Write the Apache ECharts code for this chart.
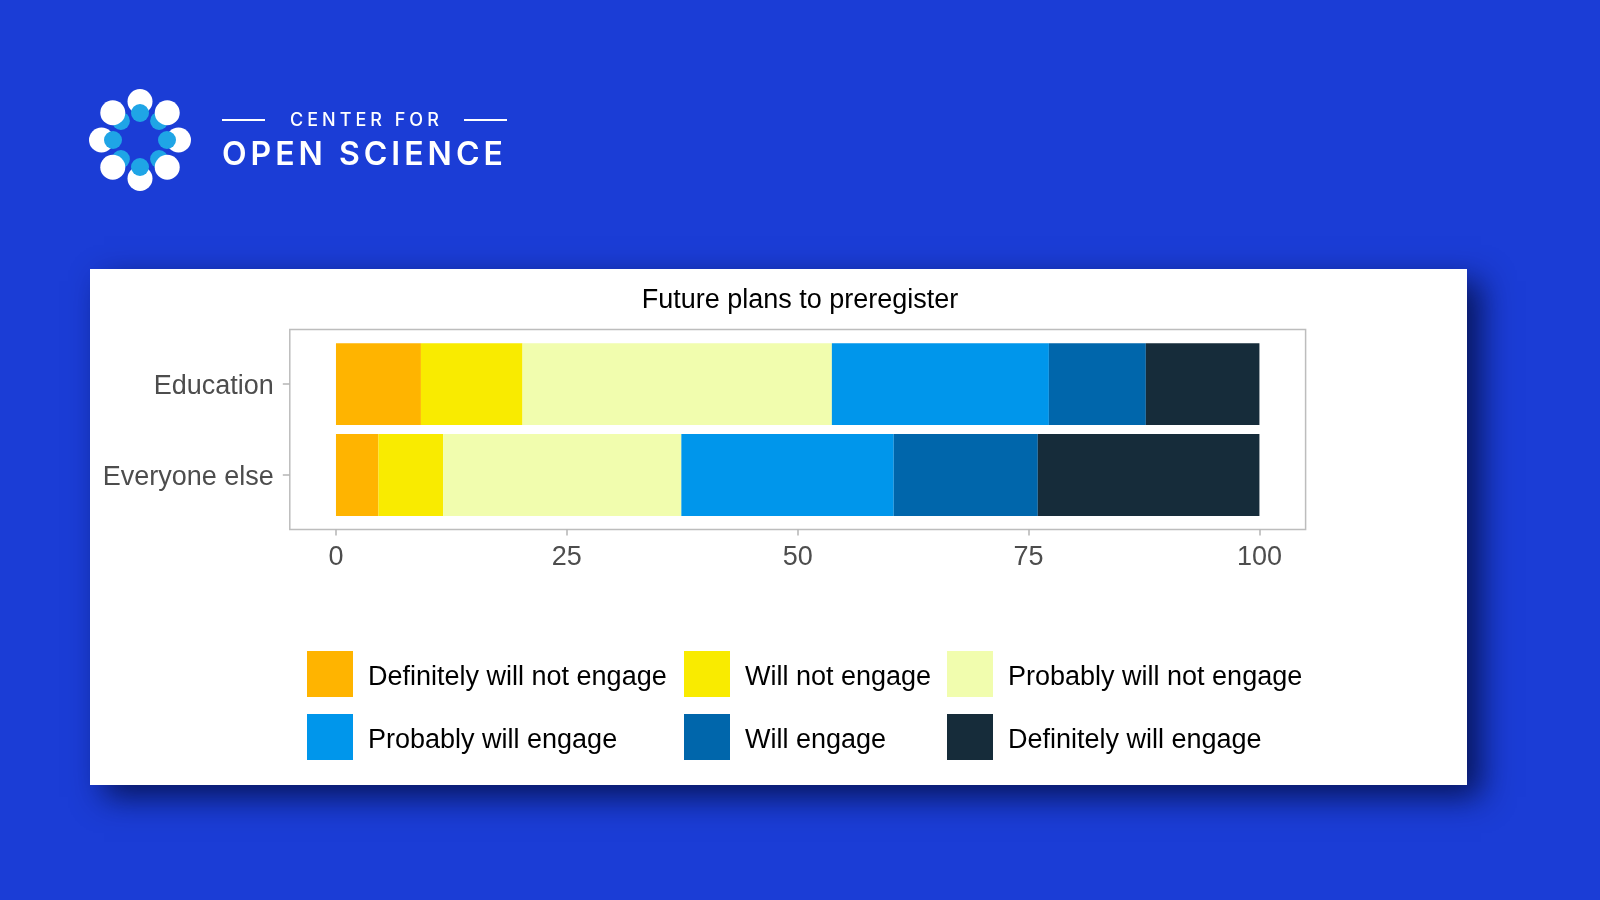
<!DOCTYPE html>
<html>
<head>
<meta charset="utf-8">
<script src="https://cdn.jsdelivr.net/npm/echarts@6/dist/echarts.min.js"></script>
<style>
  html, body { margin: 0; padding: 0; background: #1b3dd6; }
  #wrap { position: relative; width: 1600px; height: 900px; overflow: hidden; }
  #chart { position: absolute; left: 0; top: 0; width: 1600px; height: 900px; }
  .logo-line { position: absolute; height: 2px; background: #fff; }
  .logo-small { position: absolute; left: 290px; top: 108px; width: 160px; font-family: Inter, "Open Sans", sans-serif; font-weight: 500; font-size: 18px; letter-spacing: 4px; color: #fff; line-height: 24px; white-space: nowrap; }
  .logo-big { position: absolute; left: 222px; top: 134px; font-family: Inter, "Open Sans", sans-serif; font-weight: 600; font-size: 32px; letter-spacing: 4px; color: #fff; line-height: 40px; white-space: nowrap; }
</style>
</head>
<body>
<div id="wrap">
  <div id="chart"></div>
  <div class="logo-line" style="left:222px; top:119px; width:43px;"></div>
  <div class="logo-line" style="left:464px; top:119px; width:43px;"></div>
  <div class="logo-small">CENTER FOR</div>
  <div class="logo-big">OPEN SCIENCE</div>
</div>
<script>
// ---- data ----
const categories = ['Education', 'Everyone else'];
const responseLevels = [
  'Definitely will not engage',
  'Will not engage',
  'Probably will not engage',
  'Probably will engage',
  'Will engage',
  'Definitely will engage'
];
const education    = [9.2, 11.0, 33.5, 23.5, 10.5, 12.3];
const everyoneElse = [4.6, 7.0, 25.8, 23.0, 15.6, 24.0];
const xTicks = [0, 25, 50, 75, 100];
const chartTitle = 'Future plans to preregister';

// ---- styles ----
const levelColors = ['#ffb400', '#f9eb00', '#f1fdae', '#0096eb', '#0066ab', '#162c3a'];
const FONT = '"Liberation Sans", Arial, sans-serif';

const chart = echarts.init(document.getElementById('chart'), null, { renderer: 'canvas' });

const series = responseLevels.map((name, i) => ({
  name: name,
  type: 'bar',
  stack: 'total',
  data: [education[i], everyoneElse[i]],
  barWidth: '90%',
  itemStyle: { color: levelColors[i] },
  emphasis: { disabled: true },
  z: 3
}));

// logo circles
const logo = [];
const cx = 140, cy = 140;
function circ(angle, dist, r, color) {
  const a = angle * Math.PI / 180;
  return { type: 'circle', shape: { cx: cx + dist * Math.sin(a), cy: cy - dist * Math.cos(a), r: r }, style: { fill: color }, z: 10 };
}
for (let k = 0; k < 8; k++) if (k % 2 === 1) logo.push(circ(k * 45, 27, 9, '#1fa5e6'));
for (let k = 0; k < 8; k++) logo.push(circ(k * 45, 38.5, 12.5, '#ffffff'));
for (let k = 0; k < 8; k++) if (k % 2 === 0) logo.push(circ(k * 45, 27, 9, '#1fa5e6'));

const legendBase = {
  orient: 'vertical',
  itemWidth: 46,
  itemHeight: 46,
  itemGap: 17,
  icon: 'rect',
  padding: 0,
  selectedMode: false,
  formatter: name => '{t|' + name + '}',
  textStyle: {
    fontSize: 27, color: '#000', fontFamily: FONT,
    rich: { t: { fontSize: 27, color: '#000', fontFamily: FONT, padding: [7, 0, 0, 10] } }
  }
};

// ggplot-style 5% expansion of the value range
const span = xTicks[xTicks.length - 1] - xTicks[0];
const xMin = xTicks[0] - 0.05 * span;
const xMax = xTicks[xTicks.length - 1] + 0.05 * span;

const option = {
  backgroundColor: '#1b3dd6',
  animation: false,
  title: {
    text: chartTitle,
    left: 'center',
    top: 287,
    padding: 0,
    textStyle: { fontSize: 27, fontWeight: 'normal', color: '#000', fontFamily: FONT }
  },
  legend: [
    Object.assign({}, legendBase, { left: 307, top: 651, data: [responseLevels[0], responseLevels[3]] }),
    Object.assign({}, legendBase, { left: 684, top: 651, data: [responseLevels[1], responseLevels[4]] }),
    Object.assign({}, legendBase, { left: 947, top: 651, data: [responseLevels[2], responseLevels[5]] })
  ],
  grid: { left: 289.8, top: 338.65, width: 1015.8, height: 181.8, containLabel: false },
  xAxis: {
    type: 'value',
    min: xMin,
    max: xMax,
    offset: 9.15,
    axisLine: { show: false, onZero: false },
    axisTick: { show: true, length: 6, customValues: xTicks, lineStyle: { color: '#b5b5b5', width: 1.5 } },
    splitLine: { show: false },
    axisLabel: { fontSize: 27, color: '#4d4d4d', fontFamily: FONT, margin: 14, customValues: xTicks }
  },
  yAxis: {
    type: 'category',
    data: categories,
    inverse: true,
    axisLine: { show: false, onZero: false },
    axisTick: { show: true, alignWithLabel: true, length: 7, lineStyle: { color: '#b5b5b5', width: 1.5 } },
    axisLabel: {
      margin: 16,
      formatter: v => '{c|' + v + '}',
      rich: { c: { fontSize: 27, color: '#4d4d4d', fontFamily: FONT, padding: [5, 0, 0, 0] } }
    }
  },
  graphic: [
    {
      type: 'rect',
      shape: { x: 90, y: 269, width: 1377, height: 516 },
      style: { fill: '#ffffff', shadowBlur: 30, shadowOffsetX: 14, shadowOffsetY: 12, shadowColor: 'rgba(5,15,70,0.85)' },
      z: -10
    },
    {
      type: 'rect',
      shape: { x: 289.8, y: 329.6, width: 1015.8, height: 200 },
      style: { fill: null, stroke: '#bdbdbd', lineWidth: 1.5 },
      z: -5
    }
  ].concat(logo),
  series: series
};

chart.setOption(option);
</script>
</body>
</html>
